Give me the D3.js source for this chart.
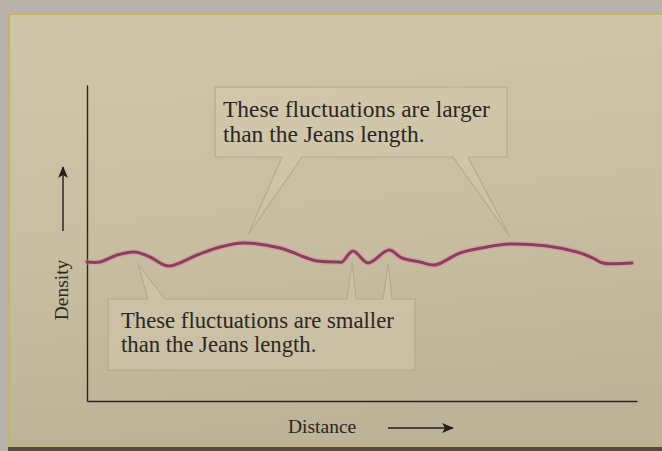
<!DOCTYPE html>
<html>
<head>
<meta charset="utf-8">
<script src="https://cdn.jsdelivr.net/npm/d3@7"></script>
<style>
  html, body { margin: 0; padding: 0; background: #b8b3aa; }
  svg { display: block; }
</style>
</head>
<body>
<svg id="chart" width="662" height="451"></svg>
<script>
// Density profile along a line through a gas cloud (arbitrary units)
const distance = [0, 13, 30, 48, 63, 81, 110, 133, 156, 193, 220, 230, 251, 255, 266, 281, 302, 315, 333, 348, 373, 400, 423, 460, 490, 506, 516, 545];
const density  = [139, 139, 146, 149, 144, 135, 146, 154, 158, 153, 143, 140, 139, 139, 150, 138, 151, 143, 139, 136, 148, 154, 157, 155, 149, 143, 138, 138];

// Callout texts and the curve features each one points at (distance, density)
const largeText = ["These fluctuations are larger", "than the Jeans length."];
const largeTips = [[161, 166], [423, 164]];
const smallText = ["These fluctuations are smaller", "than the Jeans length."];
const smallTips = [[51, 137], [265, 139], [301, 138]];

const xLabel = "Distance";
const yLabel = "Density";

const svg = d3.select("#chart");
const W = 662, H = 451;
const serif = "'Liberation Serif', 'DejaVu Serif', serif";

// Page background and panel
const defs = svg.append("defs");
const grad = defs.append("linearGradient").attr("id", "panelFill")
  .attr("x1", 0).attr("y1", 0).attr("x2", 0.15).attr("y2", 1);
grad.append("stop").attr("offset", "0%").attr("stop-color", "#d1c6a8");
grad.append("stop").attr("offset", "55%").attr("stop-color", "#c9bea1");
grad.append("stop").attr("offset", "100%").attr("stop-color", "#bdb398");

svg.append("rect").attr("width", W).attr("height", H).attr("fill", "#b8b3aa");
svg.append("rect").attr("x", 8).attr("y", 13).attr("width", W - 8).attr("height", 434)
  .attr("fill", "url(#panelFill)");
svg.append("path").attr("d", `M9,446 V14 H${W}`)
  .attr("fill", "none").attr("stroke", "#cbb460").attr("stroke-width", 2.2);
svg.append("rect").attr("x", 8).attr("y", 444).attr("width", W - 8).attr("height", 2)
  .attr("fill", "#c8b26a").attr("opacity", 0.6);
svg.append("rect").attr("x", 8).attr("y", 447).attr("width", W - 8).attr("height", 4)
  .attr("fill", "#564c3b");

// Scales
const x = d3.scaleLinear().domain([0, 550]).range([87, 637]);
const y = d3.scaleLinear().domain([0, 316]).range([401, 85]);

// Axes: plain lines without ticks
const axisColor = "#2c2620";
const xAxis = d3.axisBottom(x).tickValues([]).tickSizeOuter(0);
const yAxis = d3.axisLeft(y).tickValues([]).tickSizeOuter(0);
svg.append("g").attr("transform", `translate(0,${y(0)})`).call(xAxis)
  .select(".domain").attr("stroke", axisColor).attr("stroke-width", 1.6);
svg.append("g").attr("transform", `translate(${x(0)},0)`).call(yAxis)
  .select(".domain").attr("stroke", axisColor).attr("stroke-width", 1.4);

// Callout boxes with wedge pointers, outlined as one shape
function callout(box, wedges) {
  const [x0, y0, x1, y1] = box;
  let d = `M${x0},${y0}`;
  const top = wedges.filter(w => w.side === "top").sort((a, b) => a.base[0] - b.base[0]);
  const bottom = wedges.filter(w => w.side === "bottom").sort((a, b) => b.base[0] - a.base[0]);
  top.forEach(w => { d += ` L${w.base[0]},${y0} L${w.tip[0]},${w.tip[1]} L${w.base[1]},${y0}`; });
  d += ` L${x1},${y0} L${x1},${y1}`;
  bottom.forEach(w => { d += ` L${w.base[1]},${y1} L${w.tip[0]},${w.tip[1]} L${w.base[0]},${y1}`; });
  d += ` L${x0},${y1} Z`;
  svg.append("path").attr("d", d)
    .attr("fill", "#d8ceb4").attr("fill-opacity", 0.4)
    .attr("stroke", "#b9aa84").attr("stroke-width", 1.2)
    .attr("stroke-linejoin", "miter");
}

callout([215, 87, 507, 157], [
  { side: "bottom", base: [282, 302], tip: [x(largeTips[0][0]), y(largeTips[0][1])] },
  { side: "bottom", base: [453, 468], tip: [x(largeTips[1][0]), y(largeTips[1][1])] }
]);
callout([108, 299, 415, 370], [
  { side: "top", base: [148, 165], tip: [x(smallTips[0][0]), y(smallTips[0][1])] },
  { side: "top", base: [347, 356], tip: [x(smallTips[1][0]), y(smallTips[1][1])] },
  { side: "top", base: [383, 392], tip: [x(smallTips[2][0]), y(smallTips[2][1])] }
]);

// Callout text, sized so the first line spans the box
function textBlock(lines, x0, baseline0, lineGap, targetWidth) {
  const t = svg.append("g").selectAll("text").data(lines).join("text")
    .attr("x", x0).attr("y", (d, i) => baseline0 + i * lineGap)
    .attr("font-family", serif).attr("font-size", 20)
    .attr("fill", "#2a2622").text(d => d);
  const w = t.node().getComputedTextLength();
  t.attr("font-size", 20 * targetWidth / w);
}
textBlock(largeText, 223, 117, 25, 267);
textBlock(smallText, 121, 328, 24, 273);

// Density curve with a soft glow
const line = d3.line()
  .x((d, i) => x(distance[i]))
  .y((d, i) => y(density[i]))
  .curve(d3.curveCatmullRom.alpha(0.5));
svg.append("path").datum(density).attr("d", line)
  .attr("fill", "none").attr("stroke", "#d48da6").attr("stroke-opacity", 0.4)
  .attr("stroke-width", 6).attr("stroke-linecap", "round").attr("stroke-linejoin", "round");
svg.append("path").datum(density).attr("d", line)
  .attr("fill", "none").attr("stroke", "#8e3d5c")
  .attr("stroke-width", 3).attr("stroke-linecap", "round").attr("stroke-linejoin", "round");

// Axis titles with arrows
defs.append("marker").attr("id", "arrowHead")
  .attr("viewBox", "0 0 12 10").attr("refX", 11).attr("refY", 5)
  .attr("markerWidth", 12).attr("markerHeight", 10).attr("markerUnits", "userSpaceOnUse")
  .attr("orient", "auto")
  .append("path").attr("d", "M0,0 L12,5 L0,10 L3,5 Z").attr("fill", "#231e1a");

svg.append("text")
  .attr("transform", "translate(68,290) rotate(-90)")
  .attr("text-anchor", "middle")
  .attr("font-family", serif).attr("font-size", 19.5)
  .attr("fill", "#2a2622").text(yLabel);
svg.append("line").attr("x1", 63).attr("y1", 231).attr("x2", 63).attr("y2", 167)
  .attr("stroke", "#231e1a").attr("stroke-width", 1.4).attr("marker-end", "url(#arrowHead)");

svg.append("text")
  .attr("x", 288).attr("y", 433)
  .attr("font-family", serif).attr("font-size", 19.5)
  .attr("fill", "#2a2622").text(xLabel);
svg.append("line").attr("x1", 388).attr("y1", 428).attr("x2", 453).attr("y2", 428)
  .attr("stroke", "#231e1a").attr("stroke-width", 1.4).attr("marker-end", "url(#arrowHead)");
</script>
</body>
</html>
